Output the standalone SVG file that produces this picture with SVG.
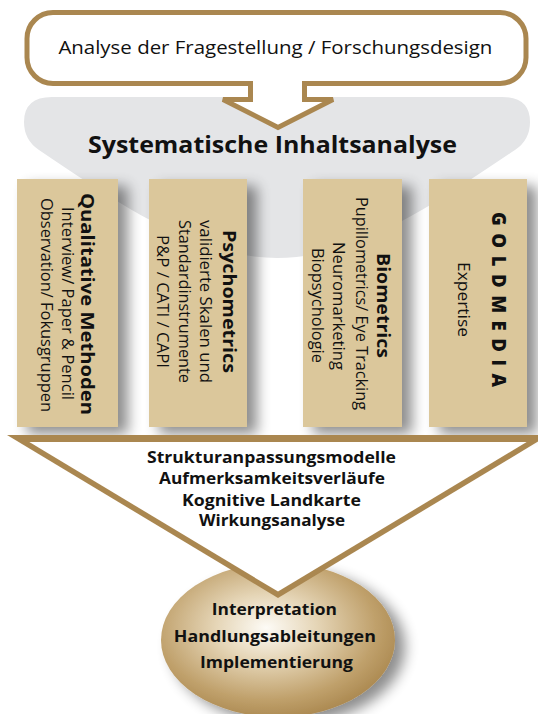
<svg xmlns="http://www.w3.org/2000/svg" width="538" height="714" viewBox="0 0 538 714">
<defs>
<style>
.t{font-family:"Open Sans","Noto Sans","Liberation Sans",sans-serif;fill:#111;}
.b{font-weight:700;}
.r{font-weight:400;}
.box{fill:#dbc79b;}
.gold{fill:#aa8750;}
.vt{text-anchor:middle;font-size:17px;}
</style>
<filter id="sh" x="-30%" y="-20%" width="160%" height="150%">
<feGaussianBlur in="SourceAlpha" stdDeviation="7"/>
<feOffset dx="10" dy="7" result="o"/>
<feComponentTransfer><feFuncA type="linear" slope="0.45"/></feComponentTransfer>
<feMerge><feMergeNode/><feMergeNode in="SourceGraphic"/></feMerge>
</filter>
<radialGradient id="eg" cx="0.45" cy="0.42" r="0.62">
<stop offset="0" stop-color="#fdfbf6"/>
<stop offset="0.35" stop-color="#e5d5b6"/>
<stop offset="0.75" stop-color="#c0a16c"/>
<stop offset="1" stop-color="#a8854c"/>
</radialGradient>
</defs>
<rect width="538" height="714" fill="#fff"/>

<g id="core">
<path d="M 52 97 H 502 Q 530 97 530 122 Q 530 140 515 150 C 440 200 360 258 277 258 C 194 258 114 200 39 150 Q 24 140 24 122 Q 24 97 52 97 Z" fill="#e4e5e7"/>
<text class="t b" x="272.5" y="153" font-size="22.5" text-anchor="middle" textLength="369" lengthAdjust="spacingAndGlyphs">Systematische Inhaltsanalyse</text>
</g>

<g id="input">
<path d="M 250.5 83.5 V 99.5 H 223 L 278 127.5 L 333 99.5 H 304.5 V 83.5 H 500 A 26 26 0 0 0 526 57.5 V 38.5 A 26 26 0 0 0 500 12.5 H 53 A 26 26 0 0 0 27 38.5 V 57.5 A 26 26 0 0 0 53 83.5 Z" fill="#fff" stroke="#aa8750" stroke-width="5" stroke-linejoin="miter"/>
<text class="t r" x="275.4" y="53.5" font-size="19" text-anchor="middle" textLength="434" lengthAdjust="spacingAndGlyphs">Analyse der Fragestellung / Forschungsdesign</text>
</g>

<g id="qualitative">
<rect class="box" x="17" y="179" width="101" height="248" filter="url(#sh)"/>
<text class="t b vt" transform="translate(81 304) rotate(90)" textLength="222" lengthAdjust="spacingAndGlyphs">Qualitative Methoden</text>
<text class="t r vt" transform="translate(62 303.5) rotate(90)" textLength="193" lengthAdjust="spacingAndGlyphs">Interview/ Paper &amp; Pencil</text>
<text class="t r vt" transform="translate(41 305) rotate(90)" textLength="214" lengthAdjust="spacingAndGlyphs">Observation/ Fokusgruppen</text>
</g>

<g id="psychometrics">
<rect class="box" x="149" y="179" width="98" height="248" filter="url(#sh)"/>
<text class="t b vt" transform="translate(223 301.5) rotate(90)" textLength="143" lengthAdjust="spacingAndGlyphs">Psychometrics</text>
<text class="t r vt" transform="translate(200 301.5) rotate(90)" textLength="163" lengthAdjust="spacingAndGlyphs">validierte Skalen und</text>
<text class="t r vt" transform="translate(179 301.5) rotate(90)" textLength="163" lengthAdjust="spacingAndGlyphs">Standardinstrumente</text>
<text class="t r vt" transform="translate(157 301.5) rotate(90)" textLength="133" lengthAdjust="spacingAndGlyphs">P&amp;P / CATI / CAPI</text>
</g>

<g id="biometrics">
<rect class="box" x="303" y="179" width="99" height="248" filter="url(#sh)"/>
<text class="t b vt" transform="translate(377 305.5) rotate(90)" textLength="105" lengthAdjust="spacingAndGlyphs">Biometrics</text>
<text class="t r vt" transform="translate(356 303.5) rotate(90)" textLength="213" lengthAdjust="spacingAndGlyphs">Pupillometrics/ Eye Tracking</text>
<text class="t r vt" transform="translate(333 306) rotate(90)" textLength="128" lengthAdjust="spacingAndGlyphs">Neuromarketing</text>
<text class="t r vt" transform="translate(312 305.5) rotate(90)" textLength="115" lengthAdjust="spacingAndGlyphs">Biopsychologie</text>
</g>

<g id="goldmedia">
<rect class="box" x="429" y="179" width="98" height="248" filter="url(#sh)"/>
<text class="t" font-weight="800" font-size="18.5" text-anchor="middle" transform="translate(491.5 299.5) rotate(90)" textLength="175" lengthAdjust="spacing">GOLDMEDIA</text>
<text class="t r vt" transform="translate(458 299.5) rotate(90)" textLength="75" lengthAdjust="spacingAndGlyphs">Expertise</text>
</g>

<g id="result">
<ellipse cx="278" cy="640" rx="117" ry="77" fill="url(#eg)" filter="url(#sh)"/>
</g>

<g id="connectors">
<g id="funnel">
<polygon class="gold" points="7,435 549,435 278,598"/>
<polygon points="29.3,442 526.7,442 278,591.6" fill="#fff"/>
<text class="t b" font-size="15.5" text-anchor="middle">
<tspan x="273.5" y="463" textLength="249" lengthAdjust="spacingAndGlyphs">Strukturanpassungsmodelle</tspan>
<tspan x="274" y="484" textLength="226" lengthAdjust="spacingAndGlyphs">Aufmerksamkeitsverläufe</tspan>
<tspan x="273.5" y="505.5" textLength="179" lengthAdjust="spacingAndGlyphs">Kognitive Landkarte</tspan>
<tspan x="272" y="526" textLength="146" lengthAdjust="spacingAndGlyphs">Wirkungsanalyse</tspan>
</text>
</g>
</g>

<g id="result-text">
<text class="t b" font-size="16.5" text-anchor="middle">
<tspan x="276.5" y="615" textLength="125" lengthAdjust="spacingAndGlyphs">Interpretation</tspan>
<tspan x="277" y="642" textLength="202" lengthAdjust="spacingAndGlyphs">Handlungsableitungen</tspan>
<tspan x="276.5" y="668" textLength="153" lengthAdjust="spacingAndGlyphs">Implementierung</tspan>
</text>
</g>
</svg>
